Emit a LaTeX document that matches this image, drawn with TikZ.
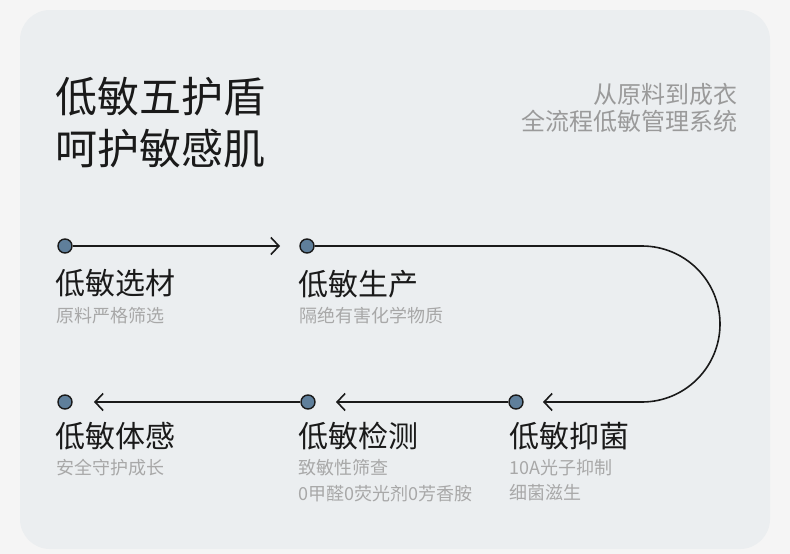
\documentclass[tikz,border=0pt]{standalone}
\usepackage{fontspec}
\setmainfont{Noto Sans CJK SC}
\usepackage{tikz}
\usetikzlibrary{arrows.meta}
\definecolor{pageColor}{HTML}{F5F5F5}
\definecolor{panelColor}{HTML}{EBEEF0}
\definecolor{dotColor}{HTML}{5F7F9B}
\definecolor{inkColor}{HTML}{1A1A1A}
\definecolor{greyColor}{HTML}{9A9A9A}
\definecolor{noteColor}{HTML}{A8A8A8}

\begin{document}
\begin{tikzpicture}[x=1pt,y=-1pt,
    stage/.style={circle, draw=inkColor, line width=1.4pt, fill=dotColor, minimum size=14pt, inner sep=0pt},
    flow/.style={draw=inkColor, line width=1.6pt, -{Straight Barb[length=8pt,width=17pt]}},
    headline/.style={anchor=west, inner sep=0pt, text=inkColor, font=\fontsize{30}{30}\selectfont},
    note/.style={anchor=west, inner sep=0pt, text=noteColor, font=\fontsize{18}{18}\selectfont}]
          \useasboundingbox (0,0) rectangle (790,554);
          \fill[pageColor] (0,0) rectangle (790,554);
          \fill[panelColor, rounded corners=30pt] (20,10) rectangle (770,549);
          % titles
          \node[anchor=west, inner sep=0pt, text=inkColor, font=\fontsize{42}{42}\selectfont] (title1) at (55,97) {低敏五护盾};
          \node[anchor=west, inner sep=0pt, text=inkColor, font=\fontsize{42}{42}\selectfont] (title2) at (55,149) {呵护敏感肌};
          \node[anchor=east, inner sep=0pt, text=greyColor, font=\fontsize{24}{24}\selectfont] (sub1) at (738,94) {从原料到成衣};
          \node[anchor=east, inner sep=0pt, text=greyColor, font=\fontsize{24}{24}\selectfont] (sub2) at (738,121) {全流程低敏管理系统};
          % timeline
          \node[stage] (d1) at (65,246) {};
          \node[stage] (d2) at (307,246) {};
          \node[stage] (d3) at (516,402) {};
          \node[stage] (d4) at (308,402) {};
          \node[stage] (d5) at (65,402) {};
          \coordinate (tip1) at (280,246);
          \coordinate (turn) at (642,246);
          \coordinate (tip3) at (543,402);
          \coordinate (tip4) at (336,402);
          \coordinate (tip5) at (94,402);
          \draw[flow] (d1) -- (tip1);
          \draw[flow] (d2) -- (turn) arc[start angle=-90, end angle=90, radius=78] -- (tip3);
          \draw[flow] (d3) -- (tip4);
          \draw[flow] (d4) -- (tip5);
          % steps
          \node[headline] (select) at (55.5,283) {低敏选材};
          \node[note] (selectNote) at (56,316) {原料严格筛选};
          \node[headline] (produce) at (298.5,284) {低敏生产};
          \node[note] (produceNote) at (299,316) {隔绝有害化学物质};
          \node[headline] (feel) at (55.5,436) {低敏体感};
          \node[note] (feelNote) at (56,468) {安全守护成长};
          \node[headline] (test) at (298,436) {低敏检测};
          \node[note] (testNote) at (298.5,468) {致敏性筛查};
          \node[note] (testNote2) at (298.5,494) {0甲醛0荧光剂0芳香胺};
          \node[headline] (guard) at (509,436) {低敏抑菌};
          \node[note] (guardNote) at (509.5,468) {10A光子抑制};
          \node[note] (guardNote2) at (509.5,493) {细菌滋生};
\end{tikzpicture}
\end{document}
